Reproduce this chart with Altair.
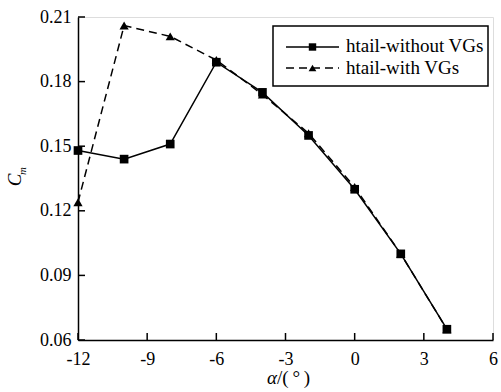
import altair as alt
import pandas as pd

# Angle of attack (deg) and pitching-moment coefficient for the two configurations
alpha = [-12, -10, -8, -6, -4, -2, 0, 2, 4]
cm_without_vg = [0.148, 0.144, 0.151, 0.189, 0.175, 0.155, 0.130, 0.100, 0.065]
cm_with_vg = [0.124, 0.206, 0.201, 0.190, 0.174, 0.156, 0.131, 0.100, 0.065]

x_ticks = [-12, -9, -6, -3, 0, 3, 6]
y_ticks = [0.06, 0.09, 0.12, 0.15, 0.18, 0.21]

series_names = ["htail-without VGs", "htail-with VGs"]

FONT = "'Liberation Serif', 'Times New Roman', Times, serif"
W, H = 415, 323
DASH = [8, 5]

df_a = pd.DataFrame({"alpha": alpha, "cm": cm_without_vg})
df_b = pd.DataFrame({"alpha": alpha, "cm": cm_with_vg})
df_xt = pd.DataFrame({"v": x_ticks})
df_yt = pd.DataFrame({"v": y_ticks})
one = pd.DataFrame({"k": [0]})

xs = alt.Scale(domain=[-12, 6], nice=False, zero=False)
ys = alt.Scale(domain=[0.06, 0.21], nice=False, zero=False)

x_axis = alt.Axis(values=x_ticks, ticks=False, grid=False, title=None,
                  labelExpr="datum.value", labelFont=FONT, labelFontSize=18,
                  labelColor="black", labelPadding=10, domainColor="black",
                  domainWidth=1.5, labelFlush=False)
y_axis = alt.Axis(values=y_ticks, ticks=False, grid=False, title=None,
                  labelExpr="format(datum.value, '.2f')", labelFont=FONT,
                  labelFontSize=18, labelColor="black", labelPadding=7,
                  domainColor="black", domainWidth=1.5)

line_a = alt.Chart(df_a).mark_line(color="black", strokeWidth=1.5).encode(
    x=alt.X("alpha:Q", scale=xs, axis=x_axis),
    y=alt.Y("cm:Q", scale=ys, axis=y_axis),
)
pts_a = alt.Chart(df_a).mark_point(shape="square", filled=True, color="black",
                                   size=75, opacity=1).encode(
    x=alt.X("alpha:Q", scale=xs), y=alt.Y("cm:Q", scale=ys))

line_b = alt.Chart(df_b).mark_line(color="black", strokeWidth=1.5,
                                   strokeDash=DASH).encode(
    x=alt.X("alpha:Q", scale=xs), y=alt.Y("cm:Q", scale=ys))
pts_b = alt.Chart(df_b).mark_point(shape="triangle-up", filled=True, color="black",
                                   size=85, opacity=1).encode(
    x=alt.X("alpha:Q", scale=xs), y=alt.Y("cm:Q", scale=ys))

# Inward tick marks
x_tick_marks = alt.Chart(df_xt).mark_rule(color="black", strokeWidth=1.5).encode(
    x=alt.X("v:Q", scale=xs), y=alt.value(H), y2=alt.value(H - 7))
y_tick_marks = alt.Chart(df_yt).mark_rule(color="black", strokeWidth=1.5).encode(
    y=alt.Y("v:Q", scale=ys), x=alt.value(0), x2=alt.value(7))

# Axis titles
x_title_a = alt.Chart(one).mark_text(
    text="α", font=FONT, fontSize=19, fontStyle="italic", align="right",
    baseline="alphabetic", color="black"
).encode(x=alt.value(199), y=alt.value(367))
x_title_b = alt.Chart(one).mark_text(
    text="/(\u2009°\u2009)", font=FONT, fontSize=19, align="left",
    baseline="alphabetic", color="black"
).encode(x=alt.value(199), y=alt.value(367))
y_title_c = alt.Chart(one).mark_text(
    text="C", font=FONT, fontSize=19, fontStyle="italic", angle=270,
    align="center", baseline="middle", color="black"
).encode(x=alt.value(-63), y=alt.value(163))
y_title_m = alt.Chart(one).mark_text(
    text="m", font=FONT, fontSize=11, fontStyle="italic", angle=270,
    align="center", baseline="middle", color="black"
).encode(x=alt.value(-55), y=alt.value(154))

# Legend box with line + marker samples
legend_box = alt.Chart(one).mark_rect(
    fill="white", stroke="black", strokeWidth=1.5
).encode(x=alt.value(195), x2=alt.value(410), y=alt.value(9), y2=alt.value(69))

leg_line_a = alt.Chart(one).mark_rule(color="black", strokeWidth=1.5).encode(
    x=alt.value(208), x2=alt.value(261), y=alt.value(30))
leg_line_b = alt.Chart(one).mark_rule(
    color="black", strokeWidth=1.5, strokeDash=DASH
).encode(x=alt.value(208), x2=alt.value(261), y=alt.value(51))
leg_pt_a = alt.Chart(one).mark_point(
    shape="square", filled=True, color="black", size=55, opacity=1
).encode(x=alt.value(234.5), y=alt.value(30))
leg_pt_b = alt.Chart(one).mark_point(
    shape="triangle-up", filled=True, color="black", size=60, opacity=1
).encode(x=alt.value(234.5), y=alt.value(51))
leg_text_a = alt.Chart(one).mark_text(
    text=series_names[0], font=FONT, fontSize=19, align="left",
    baseline="middle", color="black"
).encode(x=alt.value(268), y=alt.value(29))
leg_text_b = alt.Chart(one).mark_text(
    text=series_names[1], font=FONT, fontSize=19, align="left",
    baseline="middle", color="black"
).encode(x=alt.value(268), y=alt.value(51))

chart = alt.layer(
    line_a, line_b, pts_a, pts_b, x_tick_marks, y_tick_marks,
    x_title_a, x_title_b, y_title_c, y_title_m,
    legend_box, leg_line_a, leg_line_b, leg_pt_a, leg_pt_b,
    leg_text_a, leg_text_b,
).properties(
    width=W, height=H,
    autosize=alt.AutoSizeParams(type="none"),
    padding={"left": 78, "top": 17, "right": 8, "bottom": 52},
).configure_view(stroke=None).configure(background="white")

chart.save("out.html", embed_options={"renderer": "svg", "actions": False})
